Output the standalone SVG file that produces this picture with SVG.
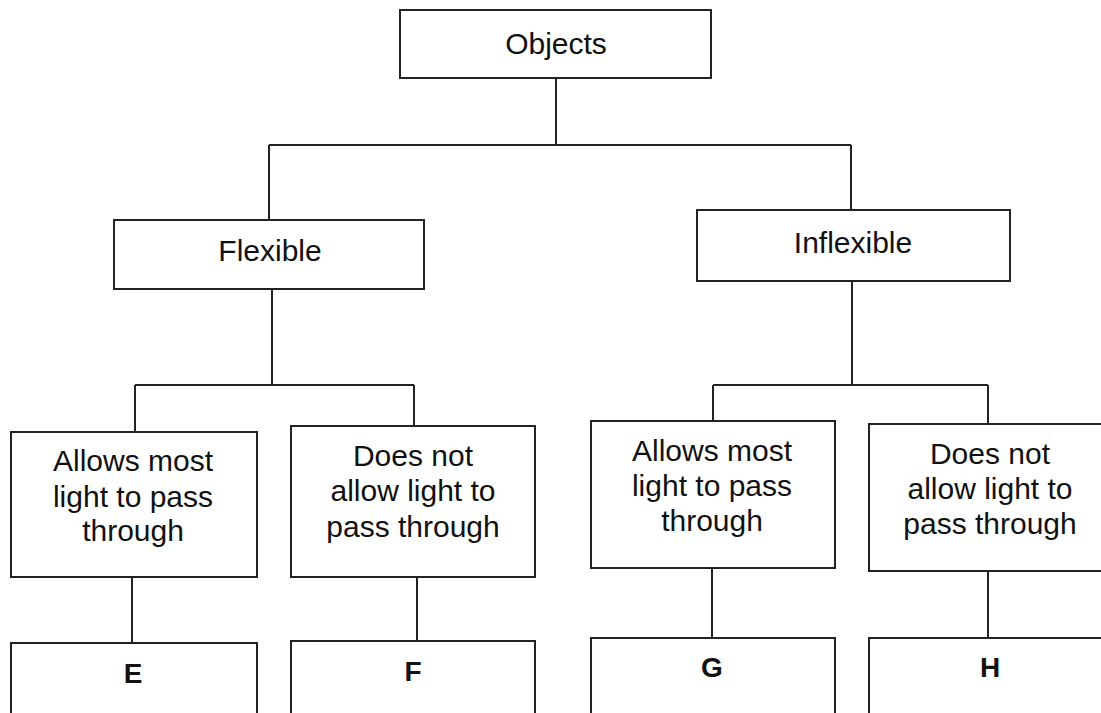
<svg xmlns="http://www.w3.org/2000/svg" width="1101" height="713" viewBox="0 0 1101 713">
<style>
rect{fill:#fff;stroke:#222;stroke-width:2}
line,path{stroke:#222;stroke-width:2;fill:none}
text{font-family:"Liberation Sans",Arial,sans-serif;font-size:30px;fill:#111;text-anchor:middle}
.b{font-weight:bold;font-size:28px}
</style>
<rect x="0" y="0" width="1101" height="713" style="stroke:none"/>
<g id="connectors">
<path d="M556 78V145M269 145H851M269 145V220M851 145V210"/>
<path d="M272 289V385M135 385H414M135 385V432M414 385V426"/>
<path d="M852 281V385M713 385H988M713 385V421M988 385V424"/>
<path d="M132 577V643M417 577V641M712 568V638M988 571V638"/>
</g>
<g id="objects"><rect x="400" y="10" width="311" height="68"/><text x="556" y="54">Objects</text></g>
<g id="flexible"><rect x="114" y="220" width="310" height="69"/><text x="270" y="261">Flexible</text></g>
<g id="inflexible"><rect x="697" y="210" width="313" height="71"/><text x="853" y="253">Inflexible</text></g>
<g id="flex-allows"><rect x="11" y="432" width="246" height="145"/><text x="133" y="471">Allows most</text><text x="133" y="507">light to pass</text><text x="133" y="541">through</text></g>
<g id="flex-not"><rect x="291" y="426" width="244" height="151"/><text x="413" y="466">Does not</text><text x="413" y="501">allow light to</text><text x="413" y="537">pass through</text></g>
<g id="inflex-allows"><rect x="591" y="421" width="244" height="147"/><text x="712" y="461">Allows most</text><text x="712" y="496">light to pass</text><text x="712" y="531">through</text></g>
<g id="inflex-not"><rect x="869" y="424" width="240" height="147"/><text x="990" y="464">Does not</text><text x="990" y="499">allow light to</text><text x="990" y="534">pass through</text></g>
<g id="E"><rect x="11" y="643" width="246" height="90"/><text class="b" x="133" y="683">E</text></g>
<g id="F"><rect x="291" y="641" width="244" height="90"/><text class="b" x="413" y="681">F</text></g>
<g id="G"><rect x="591" y="638" width="244" height="90"/><text class="b" x="712" y="677">G</text></g>
<g id="H"><rect x="869" y="638" width="240" height="90"/><text class="b" x="990" y="677">H</text></g>
</svg>
